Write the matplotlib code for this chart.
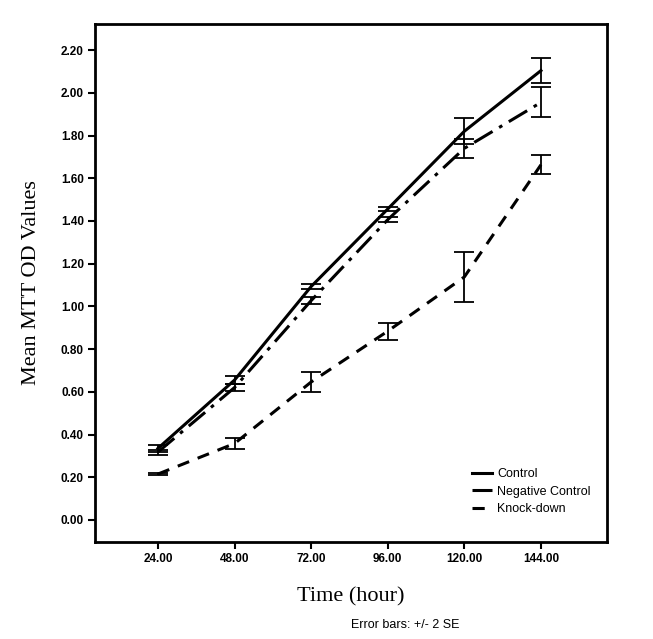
import numpy as np
import matplotlib
matplotlib.use('Agg')
import matplotlib.pyplot as plt
from matplotlib.lines import Line2D

hours = [24, 48, 72, 96, 120, 144]
tick_labels = ['24.00', '48.00', '72.00', '96.00', '120.00', '144.00']

control = [0.335, 0.655, 1.093, 1.456, 1.820, 2.104]
control_err = [0.018, 0.018, 0.010, 0.010, 0.060, 0.057]
neg_control = [0.318, 0.620, 1.027, 1.406, 1.740, 1.955]
neg_control_err = [0.012, 0.018, 0.017, 0.013, 0.045, 0.070]
knockdown = [0.215, 0.358, 0.646, 0.884, 1.138, 1.663]
knockdown_err = [0.005, 0.027, 0.047, 0.039, 0.117, 0.045]

series = [
    ('Control', control, control_err, '-'),
    ('Negative Control', neg_control, neg_control_err, (0, (7, 2.5, 1.2, 2.5))),
    ('Knock-down', knockdown, knockdown_err, (0, (4, 3))),
]

fig = plt.figure(figsize=(6.53, 6.39), dpi=100)
ax = fig.add_axes([0.1455, 0.1518, 0.7841, 0.8106])

handles = []
for name, y, err, ls in series:
    ax.errorbar(hours, y, yerr=err, fmt='none', ecolor='black', elinewidth=1.3,
                capsize=7, capthick=1.3)
    ax.plot(hours, y, color='black', linewidth=2.2, linestyle=ls)
    handles.append(Line2D([0], [0], color='black', linewidth=2.2, linestyle=ls))

ax.set_xlim(4.3, 164.7)
ax.set_ylim(-0.103, 2.322)
ax.set_xticks(hours)
ax.set_xticklabels(tick_labels)
yt = np.arange(0, 2.21, 0.2)
ax.set_yticks(yt)
ax.set_yticklabels(['%.2f' % v for v in yt])

for lab in ax.get_xticklabels() + ax.get_yticklabels():
    lab.set_fontfamily('Liberation Sans')
    lab.set_fontweight('bold')
    lab.set_fontsize(8.5)
ax.tick_params(direction='out', length=5, width=1.5, pad=3)
for s in ax.spines.values():
    s.set_linewidth(2)

ax.set_xlabel('Time (hour)', fontfamily='Liberation Serif', fontsize=16,
              fontweight='medium', labelpad=16)
ax.set_ylabel('Mean MTT OD Values', fontfamily='Liberation Serif', fontsize=16,
              fontweight='medium', labelpad=14)

ax.legend(handles, ['Control', 'Negative Control', 'Knock-down'], loc='lower right',
          bbox_to_anchor=(0.99, 0.03), frameon=False, handlelength=1.6,
          handletextpad=0.4, labelspacing=0.45,
          prop={'family': 'Liberation Sans', 'size': 9})

fig.text(0.62, 0.012, 'Error bars: +/- 2 SE', ha='center', va='bottom',
         fontfamily='Liberation Sans', fontsize=9)

plt.savefig('out.png')
plt.close(fig)
